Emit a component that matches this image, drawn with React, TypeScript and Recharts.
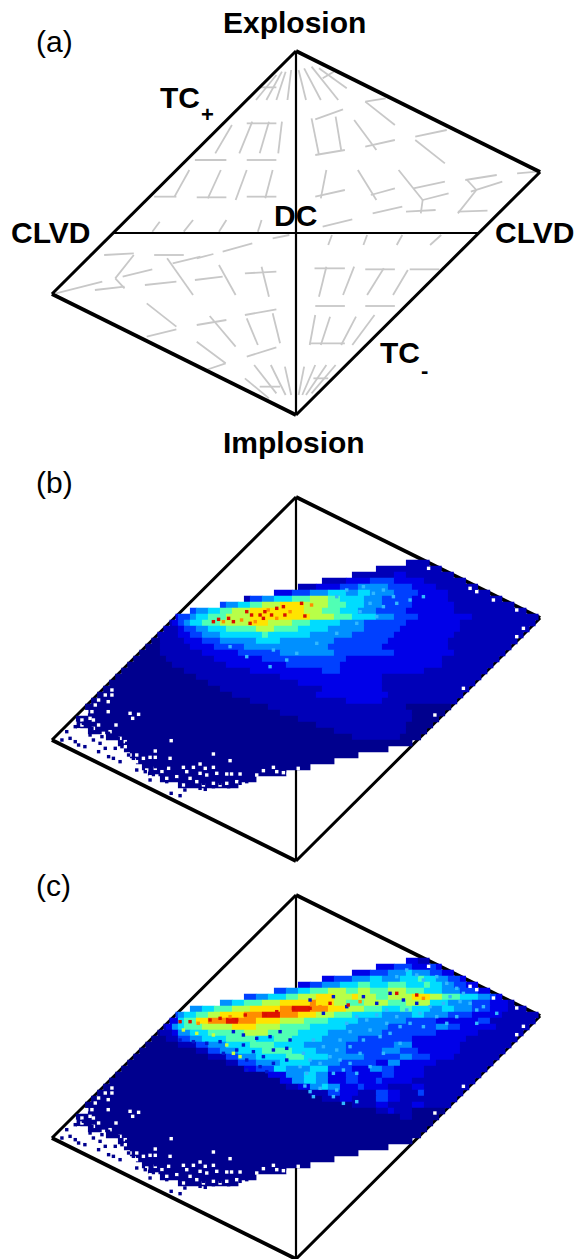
import React from "react";
import { ScatterChart, Scatter, XAxis, YAxis, ReferenceLine } from "recharts";

// Diagram units: origin at DC; Explosion/Implosion at v=+-546; outer corners at (+-659, +-183); CLVD at u=+-494.
const VERTICES = { top: [0, 546], right: [659, 183], bottom: [0, -546], left: [-659, -183] };
const CLVD_U = 494;

// Grey glyph segments of panel (a): u1, v1, u2, v2
const GREY_SEGMENTS: number[][] = [
  [-80,399,-38,484],[-53,399,-28,484],[-23,399,-13,489],[-108,399,-53,474],[-98,437,-53,437],
  [27,399,7,489],[67,399,22,494],[114,399,42,499],[137,434,62,494],[72,464,102,484],
  [-218,239,-173,324],[-153,239,-118,334],[-98,239,-73,334],[-48,239,-38,334],[-133,329,-53,329],
  [52,341,127,371],[42,344,62,234],[52,234,132,249],[122,249,107,349],[187,394,267,324],[187,394,242,404],
  [157,339,217,249],[187,259,267,279],[322,289,407,309],[322,279,402,209],
  [-273,219,-188,219],[-133,219,-53,219],[-328,109,-288,189],[-383,109,-323,109],[-238,104,-203,189],
  [-268,107,-188,107],[-163,99,-133,189],[-133,109,-53,109],[-83,104,-63,189],
  [67,104,82,189],[52,109,132,129],[167,189,217,99],[202,114,267,134],[277,189,342,99],[317,134,402,154],
  [297,64,377,69],[337,59,342,99],[342,99,412,119],[457,159,542,174],[462,159,487,129],[472,124,557,154],
  [487,129,437,59],[437,64,517,67],[597,179,652,184],[207,59,287,79],
  [-388,4,-368,34],[-303,4,-278,39],[-208,4,-188,39],[-103,4,-93,39],[72,19,152,41],
  [87,-36,97,-6],[182,-36,192,-6],[272,-36,287,-6],[362,-36,392,-6],[-198,-56,-118,-31],[-63,-16,-18,-6],
  [-268,-76,-223,-63],[-518,-66,-438,-61],[-438,-66,-488,-136],[-488,-136,-463,-166],[-543,-171,-463,-161],
  [-468,-131,-388,-109],[-648,-181,-523,-146],[-383,-66,-303,-66],[-348,-76,-278,-186],[-333,-91,-258,-71],
  [-408,-156,-323,-146],[-273,-141,-198,-131],[-208,-96,-163,-186],[-138,-121,-53,-116],[-93,-101,-73,-191],
  [50,-106,132,-106],[82,-101,62,-191],[157,-101,127,-186],[187,-109,267,-109],[237,-106,192,-186],
  [302,-111,262,-186],[307,-109,387,-109],[52,-219,132,-219],[187,-219,267,-219],[52,-246,37,-336],
  [92,-251,67,-336],[162,-251,122,-336],[212,-246,152,-336],[37,-331,132,-331],
  [-403,-211,-323,-281],[-403,-311,-323,-289],[-268,-276,-188,-261],[-233,-249,-163,-341],[-138,-246,-53,-229],
  [-133,-256,-103,-336],[-63,-241,-43,-331],[-133,-371,-53,-343],[-268,-326,-190,-391],[-243,-411,-190,-391],
  [-113,-396,-53,-481],[-68,-396,-28,-486],[-30,-401,-13,-486],[-138,-436,-73,-496],[-98,-461,-43,-461],
  [22,-401,7,-486],[52,-396,17,-486],[82,-396,27,-486],[107,-396,42,-481],[47,-436,87,-436],
];

// Heat map rows, top to bottom: "startColumn|level:count ..."
const ROWS_B = [
  "59|2:4","54|2:11","50|2:7 3:2 2:8","45|2:4 3:4 4:4 3:5 2:7","41|2:3 3:4 4:3 5:5 4:4 3:4 2:7",
  "37|3:3 4:3 5:3 6:3 5:2 6:2 5:4 4:4 3:5 2:7",
  "32|2:1 4:2 5:2 6:3 7:3 8:3 7:2 6:4 5:3 4:5 3:6 2:10",
  "28|4:1 5:2 6:2 7:2 8:3 9:4 8:4 7:3 6:3 5:3 4:5 3:7 2:11",
  "23|4:1 5:2 6:2 7:2 8:3 9:9 8:3 7:3 6:3 5:3 4:5 3:8 2:13",
  "20|3:1 4:2 5:1 6:2 7:3 8:4 9:10 8:4 7:3 6:4 5:3 4:4 3:9 2:12",
  "19|2:1 3:1 4:1 5:1 6:2 7:3 8:5 9:3 8:4 7:3 6:5 5:4 4:7 3:9 2:13",
  "18|2:3 3:1 4:2 5:2 6:3 7:5 8:3 7:4 6:5 5:6 4:6 3:10 2:12",
  "17|2:4 3:2 4:2 5:3 6:7 7:1 6:7 5:7 4:7 3:10 2:12",
  "16|1:2 2:4 3:3 4:3 5:6 6:4 5:9 4:9 3:10 2:12",
  "15|1:3 2:5 3:4 4:5 5:14 4:9 3:11 2:11",
  "14|1:4 2:7 3:6 4:7 5:9 4:10 3:10 2:9",
  "13|1:6 2:8 3:8 4:14 3:16 2:10",
  "12|1:8 2:9 3:10 4:9 3:17 2:9",
  "11|1:11 2:11 3:12 4:3 3:14 2:11",
  "10|1:14 2:14 3:17 2:17",
  "9|1:17 2:15 3:14 2:16",
  "8|1:20 2:17 3:10 2:15",
  "7|1:23 2:14 3:12 2:13",
  "6|1:27 2:16 3:6 2:13",
  "5|1:31 2:23 1:8",
  "6|1:32 2:22 1:6",
  "4|1:37 2:19 1:5",
  "4|1:40 2:15 1:5",
  "6|1:41 2:12 1:4",
  "9|1:41 2:8 1:4",
];
const ROWS_C = [
  "59|3:2 2:2","54|3:3 4:3 3:3 4:1 3:1","50|3:3 4:3 5:3 6:1 5:3 4:2 3:2",
  "45|3:2 4:3 5:3 6:2 5:3 6:3 7:1 6:2 5:2 4:2 3:1",
  "41|3:2 4:2 5:3 6:3 7:2 6:3 7:3 6:3 7:1 6:2 5:2 4:2 3:2",
  "37|4:2 5:2 6:2 7:3 8:3 7:2 8:2 7:3 8:3 7:3 6:3 5:3 4:3 3:2 2:2",
  "32|4:2 5:2 6:3 7:2 8:3 9:3 8:3 9:1 8:3 7:2 8:4 9:3 8:2 7:3 6:3 5:2 4:1 3:1 2:1",
  "28|5:2 6:2 7:3 8:3 9:5 a:1 9:3 8:2 7:3 8:4 7:3 8:4 6:3 5:4 4:3 3:3 2:2",
  "23|5:2 6:2 7:3 8:3 9:5 a:2 b:3 a:3 9:3 8:3 7:3 6:3 7:2 6:3 5:2 6:2 5:3 4:3 3:3 2:3",
  "20|4:1 5:1 6:2 7:2 8:2 9:4 a:3 b:3 a:3 9:3 8:3 7:3 6:5 5:5 6:2 5:4 4:4 3:5 2:7",
  "19|3:2 6:1 7:2 9:2 a:3 b:2 a:3 9:4 8:4 7:4 6:5 5:8 4:5 3:7 4:2 2:8",
  "18|2:1 3:1 5:1 6:1 7:3 8:5 9:4 8:4 7:5 6:6 5:7 4:8 5:2 4:2 3:6 2:6",
  "17|1:1 2:2 3:1 5:2 6:3 7:6 8:4 7:5 6:5 5:9 4:9 3:7 2:8",
  "16|1:3 2:2 4:2 5:2 6:4 7:5 6:3 7:3 6:5 5:6 4:9 3:9 2:9",
  "15|1:6 2:3 4:2 5:3 6:4 7:4 6:5 5:7 4:8 5:3 3:8 2:9",
  "14|1:10 2:2 4:2 5:3 6:4 7:5 6:4 5:5 4:6 5:3 4:3 3:7 2:8",
  "13|1:13 2:3 4:2 5:3 6:5 7:3 6:4 5:6 4:6 5:2 4:3 3:4 2:8",
  "12|1:17 2:2 4:3 5:4 6:5 5:5 4:6 3:2 5:2 3:6 2:10",
  "11|1:21 3:2 4:3 6:2 5:4 6:3 4:4 3:3 5:2 4:2 3:5 2:11",
  "10|1:26 3:3 5:3 6:2 5:2 3:3 4:2 3:4 4:2 3:5 2:10",
  "9|1:29 3:2 5:2 6:2 5:2 3:3 4:2 3:3 4:1 3:5 2:11",
  "8|1:31 2:2 3:2 5:2 6:1 5:2 3:3 4:1 3:4 2:4 3:2 2:8",
  "7|1:36 2:3 4:2 3:3 2:3 4:2 3:2 2:3 4:1 2:7",
  "6|1:39 2:3 3:2 2:4 4:2 3:2 2:10",
  "5|1:45 2:4 3:2 2:4 3:2 2:5",
  "6|1:48 2:2 3:1 2:3 1:6",
  "4|1:54 2:2 1:5",
  "4|1:60","6|1:57","9|1:53",
];
const ROWS_LOWER = ["11|1:49","12|1:44","13|1:38","14|1:33","15|1:28","16|1:23","18|1:16","21|1:10"];

// Speckles: u, v
const WHITE_SPECKS: number[][] = [
  [-497,-33],[-497,-48],[-515,-48],[-533,-63],[-507,-68],[-542,-78],[-551,-98],[-565,-98],[-507,-98],[-448,-103],
  [-425,-106],[-441,-118],[-556,-118],[-578,-123],[-547,-123],[-597,-133],[-578,-138],[-533,-138],[-486,-138],
  [-547,-148],[-605,-153],[-587,-153],[-569,-158],[-520,-163],[-502,-158],[-556,-173],[-529,-178],[-475,-178],
  [-605,-178],[-337,-185],[-628,-183],[-520,-188],[-461,-188],[-551,-188],[-597,-193],[-529,-203],[-497,-205],
  [-461,-203],[-578,-208],[-380,-216],[-223,-225],[-448,-228],[-430,-228],[-507,-233],[-529,-233],[-412,-238],
  [-394,-235],[-380,-235],[-340,-238],[-178,-245],[-475,-248],[-259,-255],[-448,-253],[-430,-248],[-344,-268],
  [-304,-265],[-277,-265],[-245,-268],[-223,-265],[-61,-265],[6,-268],[-380,-268],[-403,-273],[-466,-268],
  [-448,-273],[-88,-275],[-52,-278],[-34,-281],[-151,-285],[-174,-285],[-187,-285],[-214,-283],[-259,-283],
  [-241,-288],[-295,-278],[-106,-288],[-21,-285],[-322,-293],[-376,-291],[-349,-298],[-362,-278],[-286,-298],
  [-268,-308],[-223,-313],[-187,-313],[-160,-308],[-304,-318],[-250,-318],[-205,-318],[-421,-293],[-394,-293],
  [358,332],[470,272],[488,262],[533,237],[596,207],[614,152],[596,127],[452,-28],[375,-108],
];
const BLUE_SPECKS: number[][] = [
  [-632,-183],[-610,-178],[-596,-188],[-587,-198],[-570,-203],[-619,-158],[-596,-143],[-574,-133],[-551,-148],
  [-556,-168],[-547,-183],[-524,-173],[-529,-193],[-515,-208],[-506,-163],[-533,-218],[-506,-233],[-488,-208],
  [-480,-178],[-470,-203],[-457,-193],[-493,-238],[-475,-248],[-452,-228],[-439,-238],[-421,-248],[-430,-273],
  [-407,-278],[-394,-283],[-380,-263],[-394,-303],[-362,-288],[-349,-308],[-331,-273],[-322,-303],[-353,-263],
  [-313,-318],[-300,-333],[-277,-313],[-259,-328],[-250,-313],[-223,-323],[-205,-313],[-182,-323],[-151,-313],
  [-133,-308],[-313,-350],[-337,-343],[-245,-331],[-173,-313],
];
const HOT_SPECKS_B: number[][] = [
  [-223,172],[-209,179],[-196,172],[-182,182],[-169,172],[-147,177],[-133,202],[-120,192],[-110,172],[-97,192],
  [-88,182],[-75,207],[-66,192],[-52,212],[-52,182],[-34,217],[-30,192],[-16,202],[15,227],[24,189],[42,222],
  [-124,167],[-84,202],
];
const HOT_SPECKS_C: number[][] = [
  [-313,166],[-286,166],[-264,161],[-232,171],[-205,176],[-178,181],[-160,171],[-137,186],[-110,186],[-83,186],
  [-52,196],[-30,201],[-7,206],[38,206],[65,211],[92,221],[141,216],[173,226],[272,251],[326,246],[344,236],
];
const LIGHT_SPECKS_B: number[][] = [
  [182,277],[209,257],[236,267],[263,247],[200,227],[236,217],[272,227],[308,237],[344,247],[137,267],[110,247],
  [173,202],[218,187],[164,167],[110,137],[56,107],[2,77],[-61,87],[-25,57],[-178,97],[-133,67],[-70,37],
];
const LIGHT_SPECKS_C: number[][] = [
  [299,321],[326,306],[272,301],[344,291],[380,301],[407,281],[434,266],[452,251],[416,241],[443,226],[398,221],
  [470,221],[362,211],[335,191],[299,201],[272,181],[245,201],[218,186],[191,171],[164,181],[137,161],[200,141],
  [245,161],[281,151],[308,161],[254,131],[227,121],[182,111],[146,136],[119,111],[110,81],[146,91],[173,71],
  [119,51],[128,21],[146,41],[92,61],[65,41],[38,51],[20,71],[74,91],[47,111],[11,31],[29,11],[101,11],[164,11],
  [200,31],[236,71],[281,101],[344,151],[380,181],[488,201],[506,211],[542,191],[434,181],[488,161],[407,161],
  [24,-27],[38,-44],[65,-34],[110,-39],[47,-59],[128,-79],[164,-74],[101,-59],
];
const DARK_SPECKS_C: number[][] = [
  [-313,111],[-277,106],[-241,101],[-205,106],[-169,136],[-142,126],[-106,116],[-70,121],[-43,136],[-16,111],
  [-142,96],[-115,76],[-88,61],[-61,81],[-25,86],[-160,81],[-133,51],[-97,31],[-61,41],[-25,51],[-133,21],[-79,16],
  [-196,71],[38,231],[74,191],[101,241],[137,211],[182,241],[218,221],[254,251],[290,231],[326,221],
];
const YELLOW_SPECKS_C: number[][] = [[-268,131],[-304,141],[-223,126],[-187,96],[-169,71],[-151,61]];

const LEVEL_COLORS: Record<string, string> = {
  "1": "#00008e", "2": "#0000b8", "3": "#0000e8", "4": "#0040ff", "5": "#0090ff", "6": "#00dcff",
  "7": "#50ffb4", "8": "#b8ff48", "9": "#ffe400", a: "#ff8c00", b: "#e01400",
};

const COL_U = 16.2;
const PX_U = 2.7;
const PX_V = 3;
const ROW_TOP_V = 348;
const ROW_V = 18;

const leftU = (v: number) => (v >= -183 ? -659 + ((v + 183) * 659) / 729 : -659 + ((-183 - v) * 659) / 363);
const rightU = (v: number) => (v >= 183 ? 659 - ((v - 183) * 659) / 363 : 659 - ((183 - v) * 659) / 729);

type Cell = { u: number; v: number; w: number; level: string };
function buildCells(rows: string[]): Cell[] {
  const out: Cell[] = [];
  rows.forEach((row, r) => {
    const [start, runs] = row.split("|");
    const v = ROW_TOP_V - r * ROW_V;
    let col = Number(start);
    runs.split(" ").forEach((run) => {
      const [level, n] = run.split(":");
      const count = Number(n);
      const a = Math.max(-659 + col * COL_U, leftU(v));
      const b = Math.min(-659 + (col + count) * COL_U, rightU(v));
      if (b > a) out.push({ u: (a + b) / 2, v, w: b - a, level });
      col += count;
    });
  });
  return out;
}
const specks = (list: number[][]) => list.map(([u, v], i) => ({ u, v, i }));

const CellShape = (p: any) => {
  const w = p.payload.w / PX_U;
  return <rect x={p.cx - w / 2} y={p.cy - 3.25} width={w + 0.5} height={6.5} fill={LEVEL_COLORS[p.payload.level]} />;
};
const square = (fill: string) => (p: any) => <rect x={p.cx - 1.7} y={p.cy - 1.7} width={3.4} height={3.4} fill={fill} />;
const whiteShape = square("#ffffff");
const blueShape = square("#00008e");
const lightShape = square("#30b8ff");
const darkShape = square("#0018d0");
const yellowShape = square("#c8ff40");
const hotShape = (p: any) => <rect x={p.cx - 1.7} y={p.cy - 1.7} width={3.4} height={3.4} fill={p.payload.i % 3 === 2 ? "#ff8c00" : "#d81000"} />;

const CELLS_B = buildCells(ROWS_B.concat(ROWS_LOWER));
const CELLS_C = buildCells(ROWS_C.concat(ROWS_LOWER));
const WHITE_DATA = specks(WHITE_SPECKS);
const BLUE_DATA = specks(BLUE_SPECKS);
const HOT_B = specks(HOT_SPECKS_B);
const HOT_C = specks(HOT_SPECKS_C);
const LIGHT_B = specks(LIGHT_SPECKS_B);
const LIGHT_C = specks(LIGHT_SPECKS_C);
const DARK_C = specks(DARK_SPECKS_C);
const YELLOW_C = specks(YELLOW_SPECKS_C);

const WIDTH = 581;
const xDomain = [-296 * PX_U, 285 * PX_U];

function Panel({ top, height, center, children, grey }: any) {
  const edges = [
    [VERTICES.top, VERTICES.right, 3.8],
    [VERTICES.right, VERTICES.bottom, 3],
    [VERTICES.bottom, VERTICES.left, 3.8],
    [VERTICES.left, VERTICES.top, 3],
  ];
  const c = center - top;
  return (
    <div style={{ position: "absolute", left: 0, top }}>
      <ScatterChart width={WIDTH} height={height} margin={{ top: 0, right: 0, bottom: 0, left: 0 }}>
        <XAxis type="number" dataKey="u" domain={xDomain} hide allowDataOverflow />
        <YAxis type="number" dataKey="v" domain={[(c - height) * PX_V, c * PX_V]} hide allowDataOverflow />
        {children}
        {grey &&
          GREY_SEGMENTS.map((s, i) => (
            <ReferenceLine key={i} segment={[{ x: s[0], y: s[1] }, { x: s[2], y: s[3] }]} stroke="#c8c8c8" strokeWidth={1.8} ifOverflow="visible" />
          ))}
        <ReferenceLine segment={[{ x: -CLVD_U, y: 0 }, { x: CLVD_U, y: 0 }]} stroke="#000" strokeWidth={2.2} ifOverflow="visible" />
        <ReferenceLine segment={[{ x: 0, y: VERTICES.top[1] }, { x: 0, y: VERTICES.bottom[1] }]} stroke="#000" strokeWidth={2.2} ifOverflow="visible" />
        {edges.map((e: any, i) => (
          <ReferenceLine key={"e" + i} segment={[{ x: e[0][0], y: e[0][1] }, { x: e[1][0], y: e[1][1] }]} stroke="#000" strokeWidth={e[2]} ifOverflow="visible" />
        ))}
      </ScatterChart>
    </div>
  );
}

const Label = ({ x, y, size = 30, bold = true, children }: any) => (
  <div style={{ position: "absolute", left: x, top: y, fontFamily: "'Liberation Sans', Arial, sans-serif", fontSize: size, lineHeight: 1, fontWeight: bold ? 700 : 400, color: "#000", whiteSpace: "nowrap" }}>
    {children}
  </div>
);

export default function App() {
  return (
    <div style={{ position: "absolute", left: 0, top: 0, width: 581, height: 1259, overflow: "hidden", background: "#fff" }}>
      <Panel top={0} height={440} center={233} grey />
      <Panel top={470} height={410} center={679}>
        <Scatter data={CELLS_B} shape={CellShape} isAnimationActive={false} />
        <Scatter data={LIGHT_B} shape={lightShape} isAnimationActive={false} />
        <Scatter data={WHITE_DATA} shape={whiteShape} isAnimationActive={false} />
        <Scatter data={BLUE_DATA} shape={blueShape} isAnimationActive={false} />
        <Scatter data={HOT_B} shape={hotShape} isAnimationActive={false} />
      </Panel>
      <Panel top={870} height={389} center={1077}>
        <Scatter data={CELLS_C} shape={CellShape} isAnimationActive={false} />
        <Scatter data={LIGHT_C} shape={lightShape} isAnimationActive={false} />
        <Scatter data={DARK_C} shape={darkShape} isAnimationActive={false} />
        <Scatter data={YELLOW_C} shape={yellowShape} isAnimationActive={false} />
        <Scatter data={WHITE_DATA} shape={whiteShape} isAnimationActive={false} />
        <Scatter data={BLUE_DATA} shape={blueShape} isAnimationActive={false} />
        <Scatter data={HOT_C} shape={hotShape} isAnimationActive={false} />
      </Panel>
      <Label x={36} y={27} bold={false}>(a)</Label>
      <Label x={36} y={468} bold={false}>(b)</Label>
      <Label x={36} y={871} bold={false}>(c)</Label>
      <Label x={223} y={8}>Explosion</Label>
      <Label x={223} y={428}>Implosion</Label>
      <Label x={11} y={218}>CLVD</Label>
      <Label x={495} y={218}>CLVD</Label>
      <Label x={274} y={201}>DC</Label>
      <Label x={160} y={83}>TC</Label>
      <Label x={201} y={104} size={22}>+</Label>
      <Label x={380} y={338}>TC</Label>
      <Label x={421} y={360} size={22}>-</Label>
    </div>
  );
}
